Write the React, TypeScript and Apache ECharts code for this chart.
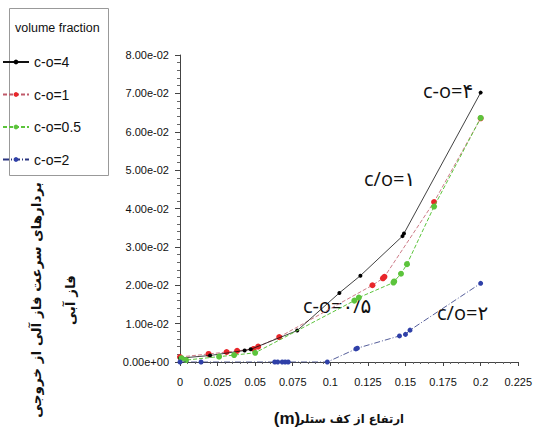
import React, { useEffect, useRef } from "react";
import * as echarts from "echarts";

const xTicks = [0, 0.025, 0.05, 0.075, 0.1, 0.125, 0.15, 0.175, 0.2, 0.225];

const blackX = [0, 0.02, 0.043, 0.047, 0.078, 0.106, 0.12, 0.148, 0.149, 0.2];
const blackY = [0.001, 0.0017, 0.003, 0.0033, 0.0082, 0.018, 0.0225, 0.0328, 0.0335, 0.0702];

const redX = [0, 0.019, 0.031, 0.038, 0.049, 0.052, 0.066, 0.128, 0.135, 0.136, 0.169, 0.2];
const redY = [0.0013, 0.0021, 0.0026, 0.0029, 0.0034, 0.004, 0.0065, 0.02, 0.0218, 0.0222, 0.0417, 0.0635];

const greenX = [0.001, 0.004, 0.026, 0.036, 0.05, 0.116, 0.119, 0.142, 0.1425, 0.147, 0.151, 0.169, 0.2];
const greenY = [0.001, 0.0005, 0.0014, 0.0018, 0.0024, 0.016, 0.0168, 0.0207, 0.021, 0.023, 0.0255, 0.0405, 0.0636];

const blueX = [0, 0.014, 0.063, 0.065, 0.068, 0.07, 0.072, 0.098, 0.117, 0.118, 0.146, 0.15, 0.153, 0.2];
const blueY = [0, 0, 0, 0, 0, 0, 0, 0, 0.0034, 0.0036, 0.0068, 0.0072, 0.0083, 0.0205];

const seriesNames = ["c-o=4", "c-o=1", "c-o=0.5", "c-o=2"];

const zip = (xs: number[], ys: number[]) => xs.map((x, i) => [x, ys[i]]);

export default function App() {
  const ref = useRef<HTMLDivElement>(null);
  useEffect(() => {
    if (!ref.current) return;
    const chart = echarts.init(ref.current, null, { renderer: "svg" });
    const font = "'Liberation Sans', Arial, sans-serif";
    chart.setOption({
      animation: false,
      backgroundColor: "#fff",
      grid: { left: 180, right: 12, top: 55, bottom: 67 },
      legend: {
        orient: "vertical",
        left: 2,
        top: 55,
        padding: 0,
        itemGap: 18.5,
        itemWidth: 26,
        itemHeight: 6,
        textStyle: { fontFamily: font, fontSize: 14, color: "#111" },
        data: seriesNames,
      },
      xAxis: {
        type: "value",
        min: 0,
        max: 0.225,
        interval: 0.025,
        axisLine: { lineStyle: { color: "#444", width: 1 } },
        axisTick: { show: true, length: 4, lineStyle: { color: "#444" } },
        minorTick: { show: true, splitNumber: 5, length: 2, lineStyle: { color: "#666" } },
        splitLine: { show: false },
        axisLabel: {
          margin: 14,
          fontFamily: font,
          fontSize: 11,
          color: "#111",
          formatter: (v: number) => String(+v.toFixed(3)),
        },
      },
      yAxis: {
        type: "value",
        min: 0,
        max: 0.08,
        interval: 0.01,
        axisLine: { show: true, lineStyle: { color: "#444", width: 1 } },
        axisTick: { show: true, length: 5, lineStyle: { color: "#444" } },
        minorTick: { show: true, splitNumber: 5, length: 3, lineStyle: { color: "#666" } },
        splitLine: { show: false },
        axisLabel: {
          margin: 11,
          fontFamily: font,
          fontSize: 11,
          color: "#111",
          formatter: (v: number) => v.toExponential(2).replace(/e([+-])(\d)$/, "e$10$2"),
        },
      },
      series: [
        {
          name: seriesNames[0],
          type: "line",
          data: zip(blackX, blackY),
          symbol: "circle",
          symbolSize: 4,
          itemStyle: { color: "#000" },
          lineStyle: { color: "#111", width: 0.8 },
          z: 5,
        },
        {
          name: seriesNames[1],
          type: "line",
          data: zip(redX, redY),
          symbol: "circle",
          symbolSize: 6,
          itemStyle: { color: "#e8262a" },
          lineStyle: { color: "#c05a6a", width: 0.8, type: [4, 2] },
          z: 4,
        },
        {
          name: seriesNames[2],
          type: "line",
          data: zip(greenX, greenY),
          symbol: "circle",
          symbolSize: 6,
          itemStyle: { color: "#5cc43c" },
          lineStyle: { color: "#5cc43c", width: 1, type: [4, 2] },
          z: 6,
        },
        {
          name: seriesNames[3],
          type: "line",
          data: zip(blueX, blueY),
          symbol: "circle",
          symbolSize: 5,
          itemStyle: { color: "#2f40a8" },
          lineStyle: { color: "#2a3580", width: 0.8, type: [6, 2, 1, 2] },
          z: 7,
        },
      ],
      graphic: [
        {
          type: "rect",
          shape: { x: 9.5, y: 8.5, width: 99, height: 167 },
          style: { fill: "none", stroke: "#999", lineWidth: 1 },
          z: 0,
        },
        {
          type: "text",
          x: 15,
          y: 28,
          style: {
            text: "volume fraction",
            font: "12.5px 'Liberation Sans', Arial, sans-serif",
            fill: "#111",
            verticalAlign: "middle",
          },
        },
        {
          type: "text",
          x: 53,
          y: 300,
          rotation: Math.PI / 2,
          style: {
            text: "بردارهای سرعت فاز آلی از خروجی\nفاز آبی",
            font: "bold 13.5px 'DejaVu Sans', sans-serif",
            fill: "#111",
            align: "center",
            verticalAlign: "middle",
            lineHeight: 34,
          },
        },
        {
          type: "text",
          x: 404,
          y: 419,
          style: {
            text: "ارتفاع از کف ستلر",
            font: "bold 11.5px 'DejaVu Sans', sans-serif",
            fill: "#111",
            align: "right",
            verticalAlign: "middle",
          },
        },
        {
          type: "text",
          x: 287,
          y: 418,
          style: {
            text: "(m)",
            font: "bold 17px 'Liberation Sans', Arial, sans-serif",
            fill: "#111",
            align: "center",
            verticalAlign: "middle",
          },
        },
        {
          type: "text",
          x: 423,
          y: 90,
          style: { text: "c-o=۴", font: "20px 'Open Sans', 'DejaVu Sans', sans-serif", fill: "#111", verticalAlign: "middle" },
        },
        {
          type: "text",
          x: 364,
          y: 178,
          style: { text: "c/o=۱", font: "20px 'Open Sans', 'DejaVu Sans', sans-serif", fill: "#111", verticalAlign: "middle" },
        },
        {
          type: "text",
          x: 303,
          y: 305,
          style: { text: "c-o=۰/۵", font: "20px 'Open Sans', 'DejaVu Sans', sans-serif", fill: "#111", verticalAlign: "middle" },
        },
        {
          type: "text",
          x: 437,
          y: 312,
          style: { text: "c/o=۲", font: "20px 'Open Sans', 'DejaVu Sans', sans-serif", fill: "#111", verticalAlign: "middle" },
        },
      ],
    });
    return () => chart.dispose();
  }, []);
  return <div ref={ref} style={{ width: 535, height: 429, position: "absolute", left: 0, top: 0 }} />;
}
